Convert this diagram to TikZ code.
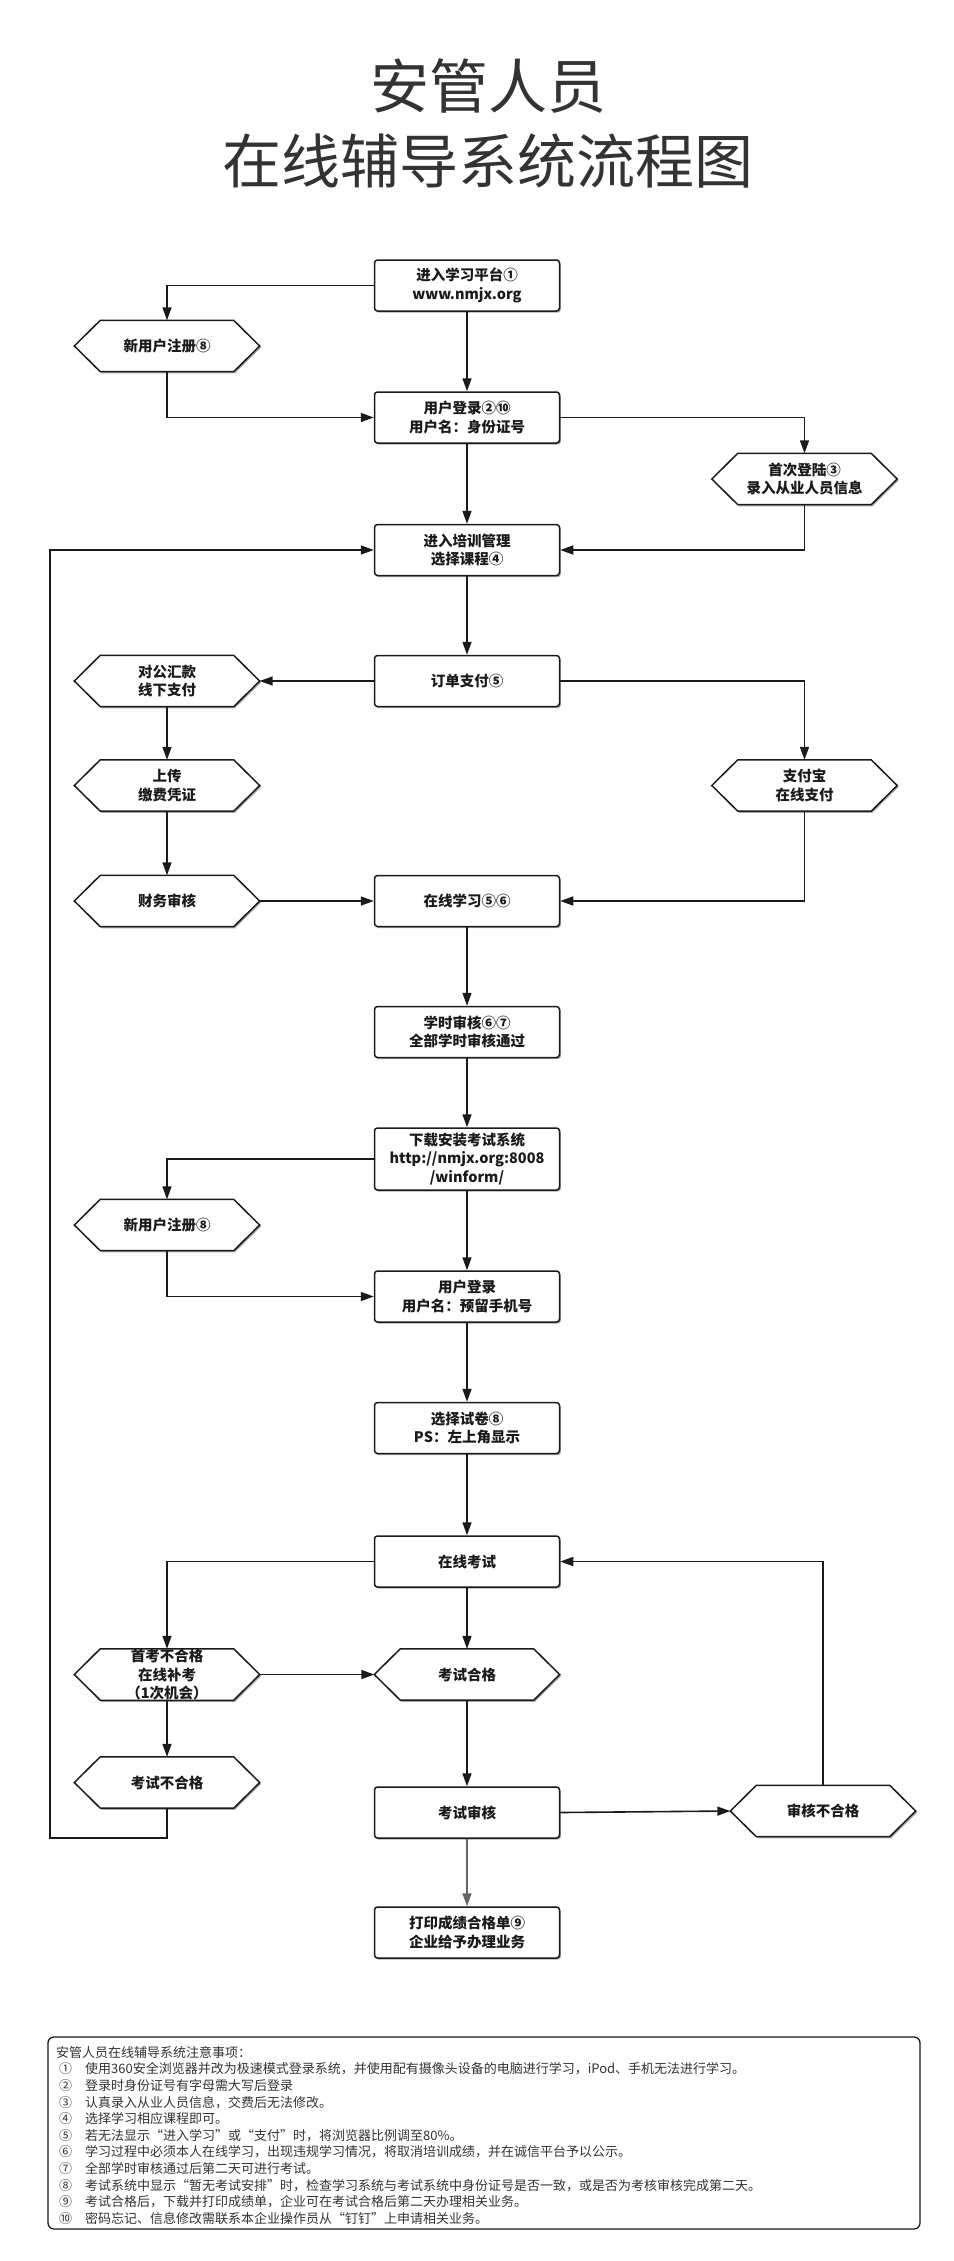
\documentclass[tikz,border=0pt]{standalone}
\usepackage{fontspec}
\setmainfont{Noto Sans CJK SC}
\usetikzlibrary{arrows.meta,shadows,backgrounds}
\definecolor{inkc}{HTML}{1A1A1A}
\definecolor{titlec}{HTML}{333333}
\begin{document}
\begin{tikzpicture}[x=1pt,y=-1pt,
  boxtext/.style={font=\bfseries\fontsize{14.5}{18.5}\selectfont, text=inkc, align=center},
  procbox/.style={boxtext, draw=inkc, line width=1.5pt, fill=white, rounded corners=3pt,
    minimum width=185pt, minimum height=51pt, inner sep=1pt,
    drop shadow={shadow xshift=1.3pt,shadow yshift=-1.6pt,fill=black,opacity=0.35}},
  hexnode/.style={boxtext, minimum width=185pt, minimum height=51pt, inner sep=0pt},
  arr/.style={draw=inkc, line width=1.6pt, -{Triangle[length=13pt,width=9pt]}},
  grayarr/.style={arr, draw=black!60},
]
\begin{scope}[on background layer]
  \fill[white] (0,0) rectangle (953,2261);
\end{scope}
\useasboundingbox (0,0) rectangle (953,2261);

% title
\node[font=\fontsize{59}{75}\selectfont, text=titlec, align=center] (title) at (488,123.5) {安管人员\\在线辅导系统流程图};

% nodes
\node[procbox] (start) at (467,285.5) {进入学习平台①\\www.nmjx.org};
\node[hexnode] (reg1) at (167,346) {新用户注册⑧};
\node[procbox] (login1) at (467,417.5) {用户登录②⑩\\用户名：身份证号};
\node[hexnode] (first) at (804.5,479) {首次登陆③\\录入从业人员信息};
\node[procbox] (train) at (467,550) {进入培训管理\\选择课程④};
\node[procbox] (order) at (467,681) {订单支付⑤};
\node[hexnode] (bank) at (167,681) {对公汇款\\线下支付};
\node[hexnode] (upload) at (167,785.5) {上传\\缴费凭证};
\node[hexnode] (alipay) at (804.5,785.5) {支付宝\\在线支付};
\node[hexnode] (audit) at (167,901) {财务审核};
\node[procbox] (study) at (467,901) {在线学习⑤⑥};
\node[procbox] (hours) at (467,1032) {学时审核⑥⑦\\全部学时审核通过};
\node[procbox, minimum height=62pt] (dl) at (467,1159) {下载安装考试系统\\http://nmjx.org:8008\\/winform/};
\node[hexnode] (reg2) at (167,1225) {新用户注册⑧};
\node[procbox] (login2) at (467,1296.5) {用户登录\\用户名：预留手机号};
\node[procbox] (paper) at (467,1428) {选择试卷⑧\\PS：左上角显示};
\node[procbox] (exam) at (467,1561.5) {在线考试};
\node[hexnode] (retake) at (167,1674.5) {首考不合格\\在线补考\\（1次机会）};
\node[hexnode] (pass) at (467,1674.5) {考试合格};
\node[hexnode] (fail) at (167,1782.5) {考试不合格};
\node[procbox] (review) at (467,1812.5) {考试审核};
\node[hexnode] (rfail) at (823,1811) {审核不合格};
\node[procbox] (print) at (467,1932.5) {打印成绩合格单⑨\\企业给予办理业务};

% hexagon outlines
\begin{scope}[on background layer]
\foreach \h in {reg1,first,bank,upload,alipay,audit,reg2,retake,pass,fail,rfail}{
  \fill[black,opacity=0.35,transform canvas={xshift=1.3pt,yshift=-1.6pt}]
    ([xshift=26pt]\h.north west) -- ([xshift=-26pt]\h.north east) -- (\h.east)
    -- ([xshift=-26pt]\h.south east) -- ([xshift=26pt]\h.south west) -- (\h.west) -- cycle;
  \filldraw[fill=white,draw=inkc,line width=1.5pt,line join=miter]
    ([xshift=26pt]\h.north west) -- ([xshift=-26pt]\h.north east) -- (\h.east)
    -- ([xshift=-26pt]\h.south east) -- ([xshift=26pt]\h.south west) -- (\h.west) -- cycle;
}
\end{scope}

% connectors
\draw[arr] (start.west) -| (reg1.north);
\draw[arr] (start.south) -- (login1.north);
\draw[arr] (reg1.south) |- (login1.west);
\draw[arr] (login1.east) -| (first.north);
\draw[arr] (login1.south) -- (train.north);
\draw[arr] (first.south) |- (train.east);
\draw[arr] (train.south) -- (order.north);
\draw[arr] (order.west) -- (bank.east);
\draw[arr] (order.east) -| (alipay.north);
\draw[arr] (bank.south) -- (upload.north);
\draw[arr] (upload.south) -- (audit.north);
\draw[arr] (audit.east) -- (study.west);
\draw[arr] (alipay.south) |- (study.east);
\draw[arr] (study.south) -- (hours.north);
\draw[arr] (hours.south) -- (dl.north);
\draw[arr] (dl.west) -| (reg2.north);
\draw[arr] (dl.south) -- (login2.north);
\draw[arr] (reg2.south) |- (login2.west);
\draw[arr] (login2.south) -- (paper.north);
\draw[arr] (paper.south) -- (exam.north);
\draw[arr] (exam.west) -| (retake.north);
\draw[arr] (exam.south) -- (pass.north);
\draw[arr] (retake.east) -- (pass.west);
\draw[arr] (retake.south) -- (fail.north);
\draw[arr] (pass.south) -- (review.north);
\draw[arr] (review.east) -- (rfail.west);
\draw[arr] (rfail.north) |- (exam.east);
\draw[grayarr] (review.south) -- (print.north);
\coordinate (loopcorner) at (50,1838);
\draw[arr] (fail.south) |- (loopcorner) |- (train.west);

% notes
\node[draw=inkc, line width=1.3pt, rounded corners=6pt, minimum width=872pt, minimum height=192pt, inner sep=0pt] (notebox) at (484,2133) {};
\node[anchor=north west, align=left, inner sep=0pt, font=\fontsize{13}{16.6}\selectfont, text=titlec] (notes) at (56,2046) {%
安管人员在线辅导系统注意事项：\\
\makebox[29pt][l]{\hspace{3pt}①}使用360安全浏览器并改为极速模式登录系统，并使用配有摄像头设备的电脑进行学习，iPod、手机无法进行学习。\\
\makebox[29pt][l]{\hspace{3pt}②}登录时身份证号有字母需大写后登录\\
\makebox[29pt][l]{\hspace{3pt}③}认真录入从业人员信息，交费后无法修改。\\
\makebox[29pt][l]{\hspace{3pt}④}选择学习相应课程即可。\\
\makebox[29pt][l]{\hspace{3pt}⑤}若无法显示“进入学习”或“支付”时，将浏览器比例调至80\%。\\
\makebox[29pt][l]{\hspace{3pt}⑥}学习过程中必须本人在线学习，出现违规学习情况，将取消培训成绩，并在诚信平台予以公示。\\
\makebox[29pt][l]{\hspace{3pt}⑦}全部学时审核通过后第二天可进行考试。\\
\makebox[29pt][l]{\hspace{3pt}⑧}考试系统中显示“暂无考试安排”时，检查学习系统与考试系统中身份证号是否一致，或是否为考核审核完成第二天。\\
\makebox[29pt][l]{\hspace{3pt}⑨}考试合格后，下载并打印成绩单，企业可在考试合格后第二天办理相关业务。\\
\makebox[29pt][l]{\hspace{3pt}⑩}密码忘记、信息修改需联系本企业操作员从“钉钉”上申请相关业务。};
\end{tikzpicture}
\end{document}
